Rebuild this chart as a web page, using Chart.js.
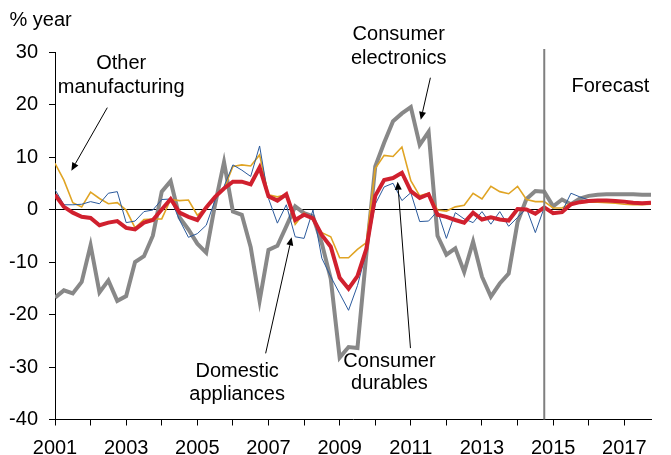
<!DOCTYPE html>
<html>
<head>
<meta charset="utf-8">
<script src="https://cdn.jsdelivr.net/npm/chart.js@4/dist/chart.umd.min.js"></script>
<style>
  html, body { margin: 0; padding: 0; background: #fff; }
</style>
</head>
<body>
<canvas id="chart" width="671" height="455"></canvas>
<script>
// quarterly data, 2001Q1 .. 2017Q4
const years = [2001, 2002, 2003, 2004, 2005, 2006, 2007, 2008, 2009,
  2010, 2011, 2012, 2013, 2014, 2015, 2016, 2017];
const quarters = years.flatMap((y) => [y, y + 0.25, y + 0.5, y + 0.75]);

const electronics = [
  -16.8, -15.4, -16.0, -13.8, -6.8, -15.8, -13.5, -17.4, -16.5, -10.0,
  -8.9, -5.0, 3.4, 5.4, -1.5, -3.8, -6.5, -8.2, 1.0, 9.0,
  -0.4, -1.0, -7.2, -17.4, -7.7, -6.9, -3.2, 0.6, -0.7, -1.3,
  -6.5, -13.2, -28.2, -26.2, -26.4, -8.5, 8.2, 12.7, 16.8, 18.3,
  19.5, 12.3, 14.8, -5.0, -8.6, -7.4, -11.9, -6.1, -12.8, -16.6,
  -14.1, -12.2, -2.4, 2.0, 3.5, 3.4, 0.6, 1.9, 1.0, 2.1,
  2.6, 2.8, 2.9, 2.9, 2.9, 2.9, 2.8, 2.8,
];
const durables = [
  2.8, 0.5, -0.6, -1.4, -1.6, -3.0, -2.5, -2.2, -3.5, -3.8,
  -2.5, -2.0, 0.0, 2.0, -0.6, -1.4, -2.0, 0.4, 2.4, 4.0,
  5.3, 5.3, 4.8, 8.0, 2.5, 1.7, 2.9, -2.0, -1.0, -1.7,
  -4.9, -7.1, -13.0, -15.1, -12.7, -7.5, 2.6, 5.6, 6.0, 7.0,
  3.5, 2.2, 2.9, -1.0, -1.4, -2.0, -2.5, -0.6, -1.9, -1.5,
  -1.9, -2.1, 0.1, 0.0, -0.8, 0.4, -0.7, -0.5, 1.0, 1.4,
  1.6, 1.7, 1.7, 1.6, 1.5, 1.3, 1.2, 1.3,
];
const appliances = [
  3.8, 0.9, 0.9, 1.0, 1.5, 1.1, 3.1, 3.4, -2.5, -2.2,
  -0.4, -0.1, 1.9, 2.0, -2.0, -5.3, -4.6, -3.0, 1.8, 4.4,
  8.5, 7.5, 6.3, 12.1, 2.1, -2.6, 0.9, -5.2, -5.5, -0.1,
  -9.3, -12.8, -16.0, -19.2, -14.5, -8.1, 1.0, 4.3, 5.0, 1.7,
  3.2, -2.3, -2.2, -0.3, -5.5, -0.6, -1.8, -2.5, -0.4, -2.8,
  -0.4, -3.2, -1.5, 0.2, -4.4, 0.4, -0.7, -0.4, 3.1, 2.4,
  1.8, 1.6, 1.6, 1.5, 1.4, 1.3, 1.2, 1.2,
];
const otherManuf = [
  8.8, 5.6, 1.3, 0.5, 3.3, 2.1, 1.1, 1.3, -0.1, -3.5,
  -1.9, -1.8, -1.8, 1.9, 1.7, 1.8, -1.1, 0.4, 2.3, 4.0,
  8.2, 8.5, 8.3, 10.4, 2.8, 2.4, 2.8, -2.8, -0.7, -2.0,
  -4.4, -5.2, -9.2, -9.2, -7.6, -6.3, 7.8, 10.3, 10.1, 11.9,
  5.5, 2.6, 3.1, -0.1, -0.3, 0.5, 0.8, 3.1, 2.0, 4.4,
  3.4, 3.0, 4.4, 1.9, 1.5, 1.5, 0.3, 0.3, 1.2, 1.3,
  1.4, 1.4, 1.3, 1.2, 1.0, 0.9, 0.9, 1.0,
];

const yMin = -40;
const yMax = 30;
const yStep = 10;
const forecastStart = 2014.75;

const FONT = "'Liberation Sans', Arial, sans-serif";

// ── text labels and arrows, placed in data units
const notes = [
  { text: "% year", x: 1999.72, y: 36.0, align: "left" },
  { text: "Other", x: 2002.86, y: 27.9 },
  { text: "manufacturing", x: 2002.86, y: 23.3 },
  { text: "Consumer", x: 2010.66, y: 33.3 },
  { text: "electronics", x: 2010.66, y: 28.8 },
  { text: "Forecast", x: 2016.61, y: 23.5 },
  { text: "Domestic", x: 2006.12, y: -30.8 },
  { text: "appliances", x: 2006.12, y: -35.3 },
  { text: "Consumer", x: 2010.40, y: -28.9 },
  { text: "durables", x: 2010.40, y: -33.2 },
];
const arrows = [
  { from: [2002.47, 19.4], to: [2001.46, 7.4] },
  { from: [2011.55, 25.1], to: [2011.28, 17.1] },
  { from: [2006.92, -27.4], to: [2007.65, -5.3] },
  { from: [2010.99, -26.4], to: [2010.63, 5.3] },
];

const overlay = {
  id: "overlay",
  afterDatasetsDraw(chart) {
    const { ctx, chartArea, scales: { x, y } } = chart;
    ctx.save();
    // forecast divider
    const fx = x.getPixelForValue(forecastStart);
    ctx.strokeStyle = "#7f7f7f";
    ctx.lineWidth = 2;
    ctx.beginPath();
    ctx.moveTo(fx, chartArea.top - 3);
    ctx.lineTo(fx, chartArea.bottom);
    ctx.stroke();

    ctx.fillStyle = "#000";
    ctx.font = "20px " + FONT;
    ctx.textBaseline = "middle";
    notes.forEach((n) => {
      ctx.textAlign = n.align || "center";
      ctx.fillText(n.text, x.getPixelForValue(n.x), y.getPixelForValue(n.y));
    });

    ctx.strokeStyle = "#000";
    ctx.lineWidth = 1;
    arrows.forEach((a) => {
      const x0 = x.getPixelForValue(a.from[0]);
      const y0 = y.getPixelForValue(a.from[1]);
      const x1 = x.getPixelForValue(a.to[0]);
      const y1 = y.getPixelForValue(a.to[1]);
      const ang = Math.atan2(y1 - y0, x1 - x0);
      const len = 8, half = 3.5;
      const bx = x1 - len * Math.cos(ang), by = y1 - len * Math.sin(ang);
      ctx.beginPath();
      ctx.moveTo(x0, y0);
      ctx.lineTo(bx, by);
      ctx.stroke();
      ctx.beginPath();
      ctx.moveTo(x1, y1);
      ctx.lineTo(bx + half * Math.sin(ang), by - half * Math.cos(ang));
      ctx.lineTo(bx - half * Math.sin(ang), by + half * Math.cos(ang));
      ctx.closePath();
      ctx.fill();
    });
    ctx.restore();
  },
};

const series = (label, data, color, width, order) => ({
  label,
  data: data.map((v, i) => ({ x: quarters[i], y: v })),
  borderColor: color,
  borderWidth: width,
  pointRadius: 0,
  tension: 0,
  order,
});

new Chart(document.getElementById("chart").getContext("2d"), {
  type: "line",
  data: {
    datasets: [
      series("Consumer durables", durables, "#d0202e", 4, 0),
      series("Domestic appliances", appliances, "#2b5a9c", 1, 1),
      series("Other manufacturing", otherManuf, "#e0a424", 1.6, 2),
      series("Consumer electronics", electronics, "#888888", 4, 3),
    ],
  },
  options: {
    responsive: false,
    animation: false,
    layout: { padding: { top: 52, right: 20, left: 0, bottom: 0 } },
    plugins: { legend: { display: false }, tooltip: { enabled: false } },
    scales: {
      x: {
        type: "linear",
        min: quarters[0],
        max: quarters[quarters.length - 1],
        afterFit: (s) => { s.height = 35.5; },
        afterBuildTicks: (s) => { s.ticks = years.map((v) => ({ value: v })); },
        ticks: {
          autoSkip: false,
          maxRotation: 0,
          padding: 11,
          color: "#000",
          font: { family: FONT, size: 20 },
          callback: (v) => (v % 2 === 1 ? String(v) : ""),
        },
        grid: { drawOnChartArea: false, tickLength: 6, tickColor: "#000" },
        border: { color: "#000", width: 1 },
      },
      y: {
        min: yMin,
        max: yMax,
        afterFit: (s) => { s.width = 55; },
        ticks: {
          stepSize: yStep,
          padding: 11,
          color: "#000",
          font: { family: FONT, size: 20 },
        },
        grid: {
          color: (c) => (c.tick && c.tick.value === 0 ? "#000" : "rgba(0,0,0,0)"),
          tickColor: "#000",
          tickLength: 6,
        },
        border: { color: "#000", width: 1 },
      },
    },
  },
  plugins: [overlay],
});
</script>
</body>
</html>
